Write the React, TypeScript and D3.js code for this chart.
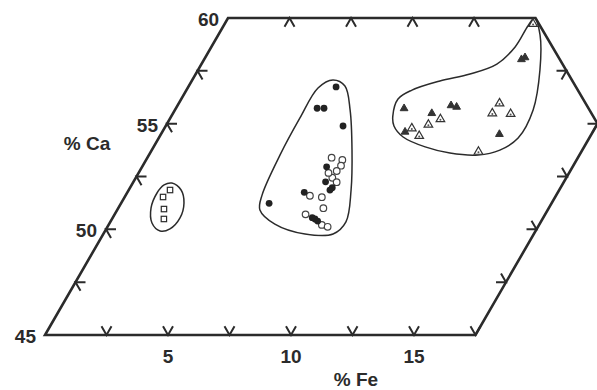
import React, { useEffect, useRef } from "react"
import * as d3 from "d3"

// Ca-Fe section of a ternary plot. all points are [%Fe, %Ca]

const squares = [[1.68, 51.86], [1.56, 51.53], [1.88, 50.96], [2.11, 50.49]]

const filledCircles = [
  [6.01, 56.74], [5.74, 55.73], [6.02, 55.73], [7.21, 54.89], [6.02, 51.23],
  [7.19, 51.75], [7.5, 52.96], [7.81, 52.25], [8.22, 51.97], [8.18, 51.86],
  [8.11, 50.55], [8.25, 50.49], [8.41, 50.39],
]

const openCircles = [
  [7.49, 53.39], [7.98, 53.28], [8.06, 53.01], [8.01, 52.76], [7.99, 52.44],
  [8.27, 52.23], [7.72, 52.67], [7.5, 51.59], [8.02, 51.52], [8.34, 51.0],
  [7.76, 50.71], [8.67, 50.21], [8.95, 50.12],
]

const filledTriangles = [
  [9.28, 55.72], [10.52, 55.49], [11.12, 55.86], [11.38, 55.79], [9.87, 54.61],
  [13.76, 54.5], [12.9, 58.04], [13.0, 58.13],
]

const openTriangles = [
  [11.01, 55.21], [10.65, 54.95], [10.06, 54.78], [10.54, 54.42], [13.04, 55.96],
  [12.98, 55.49], [13.74, 55.46], [13.32, 53.67], [12.54, 59.72],
]

// hand drawn outlines round each group
const squareHull = [
  [1.59, 52.19], [2.13, 51.86], [2.55, 51.25], [2.74, 50.54], [2.59, 50.02],
  [2.24, 49.92], [1.72, 50.3], [1.33, 51.01], [1.22, 51.72], [1.32, 52.1],
]

const circleHull = [
  [5.72, 57.07], [6.35, 56.78], [7.12, 55.65], [8.14, 53.75], [9.04, 51.86],
  [9.58, 50.35], [9.34, 49.78], [8.2, 49.78], [6.74, 50.25], [5.8, 50.92],
  [5.54, 51.62], [5.33, 53.52], [5.27, 55.27], [5.3, 56.69],
]

const triangleHull = [
  [9.0, 55.36], [8.81, 56.17], [9.17, 56.59], [10.09, 57.02], [11.15, 57.35],
  [12.01, 57.82], [12.35, 58.63], [12.38, 59.62], [12.46, 60.0], [13.08, 59.2],
  [13.9, 57.54], [14.56, 55.65], [14.61, 54.32], [14.15, 53.75], [13.38, 53.52],
  [12.19, 53.61], [11.04, 53.9], [9.91, 54.37], [9.28, 54.89],
]

// frame corners and tick places
const frame = [[0, 45], [17.5, 45], [17.5, 55], [12.5, 60], [0, 60]]
const bottomTicks = [2.5, 5, 7.5, 10, 12.5, 15, 17.5]
const topTicks = [2.5, 5, 7.5, 10]
const leftTicks = [47.5, 50, 52.5, 55, 57.5]
const lowRightTicks = [47.5, 50, 52.5]   // along Fe = 17.5
const highRightTicks = [55, 57.5]        // along Fe + Ca = 72.5
const feLabels = [5, 10, 15]
const caLabels = [45, 50, 55, 60]

const W = 597, H = 390
const INK = "#2b2b2b"

export default function App() {
  const ref = useRef<SVGSVGElement>(null)

  useEffect(() => {
    const svg = d3.select(ref.current)
    svg.selectAll("*").remove()

    const x = d3.scaleLinear().domain([0, 17.5]).range([45, 475.5])
    const y = d3.scaleLinear().domain([45, 60]).range([335, 18])
    const shear = 1 / Math.sqrt(3) // Ca axis leans 60 deg
    const px = (d: number[]) => x(d[0]) + (y(45) - y(d[1])) * shear
    const py = (d: number[]) => y(d[1])

    const font = "'Liberation Sans', Arial, sans-serif"

    // frame
    svg.append("path")
      .attr("d", d3.line<number[]>().x(px).y(py)(frame) + "Z")
      .attr("fill", "none")
      .attr("stroke", INK)
      .attr("stroke-width", 2.6)
      .attr("stroke-linejoin", "miter")

    // chevron ticks = little bits of the two grid lines going inward
    const L = 10
    const r3 = Math.sqrt(3) / 2
    const chevron = (pts: number[][], a: number[], b: number[]) => {
      svg.append("g").selectAll("path")
        .data(pts)
        .enter().append("path")
        .attr("d", d => {
          const cx = px(d), cy = py(d)
          return `M${cx + a[0] * L},${cy + a[1] * L}L${cx},${cy}L${cx + b[0] * L},${cy + b[1] * L}`
        })
        .attr("fill", "none")
        .attr("stroke", INK)
        .attr("stroke-width", 2)
    }
    chevron(bottomTicks.map(f => [f, 45]), [0.5, -r3], [-0.5, -r3])
    chevron(topTicks.map(f => [f, 60]), [0.5, r3], [-0.5, r3])
    chevron(leftTicks.map(c => [0, c]), [1, 0], [0.5, r3])
    chevron(lowRightTicks.map(c => [17.5, c]), [-1, 0], [-0.5, -r3])
    chevron(highRightTicks.map(c => [72.5 - c, c]), [-1, 0], [-0.5, r3])

    // outlines
    const hull = d3.line<number[]>().x(px).y(py).curve(d3.curveCatmullRomClosed.alpha(0.5))
    ;[squareHull, circleHull, triangleHull].forEach(h => {
      svg.append("path")
        .attr("d", hull(h))
        .attr("fill", "none")
        .attr("stroke", INK)
        .attr("stroke-width", 1.5)
    })

    // points
    svg.append("g").selectAll("rect")
      .data(squares)
      .enter().append("rect")
      .attr("x", d => px(d) - 2.7)
      .attr("y", d => py(d) - 2.7)
      .attr("width", 5.4)
      .attr("height", 5.4)
      .attr("fill", "white")
      .attr("stroke", INK)
      .attr("stroke-width", 1.2)

    svg.append("g").selectAll("circle")
      .data(openCircles)
      .enter().append("circle")
      .attr("cx", px)
      .attr("cy", py)
      .attr("r", 3.3)
      .attr("fill", "white")
      .attr("stroke", "#444")
      .attr("stroke-width", 1.2)

    svg.append("g").selectAll("circle")
      .data(filledCircles)
      .enter().append("circle")
      .attr("cx", px)
      .attr("cy", py)
      .attr("r", 3.4)
      .attr("fill", "#222")

    const tri = d3.symbol().type(d3.symbolTriangle).size(32)
    svg.append("g").selectAll("path")
      .data(openTriangles)
      .enter().append("path")
      .attr("d", tri)
      .attr("transform", d => `translate(${px(d)},${py(d)})`)
      .attr("fill", "white")
      .attr("stroke", "#333")
      .attr("stroke-width", 1.2)
    svg.append("g").selectAll("circle")
      .data(openTriangles)
      .enter().append("circle")
      .attr("cx", px)
      .attr("cy", d => py(d) + 0.6)
      .attr("r", 1)
      .attr("fill", "#555")

    svg.append("g").selectAll("path")
      .data(filledTriangles)
      .enter().append("path")
      .attr("d", d3.symbol().type(d3.symbolTriangle).size(26))
      .attr("transform", d => `translate(${px(d)},${py(d)})`)
      .attr("fill", "#333")
      .attr("stroke", "#333")
      .attr("stroke-width", 1)

    // labels
    const text = (s: string, tx: number, ty: number, anchor: string) =>
      svg.append("text")
        .attr("x", tx)
        .attr("y", ty)
        .attr("text-anchor", anchor)
        .attr("font-family", font)
        .attr("font-weight", "bold")
        .attr("font-size", 19)
        .attr("fill", INK)
        .text(s)

    caLabels.forEach(c => text(String(c), px([0, c]) - 9, py([0, c]) + 8, "end"))
    feLabels.forEach(f => text(String(f), px([f, 45]), 363, "middle"))
    text("% Ca", 87, 150, "middle")
    text("% Fe", 356, 386, "middle")
  }, [])

  return (
    <svg ref={ref} width={W} height={H}
      style={{ position: "absolute", left: 0, top: 0, background: "white" }} />
  )
}
